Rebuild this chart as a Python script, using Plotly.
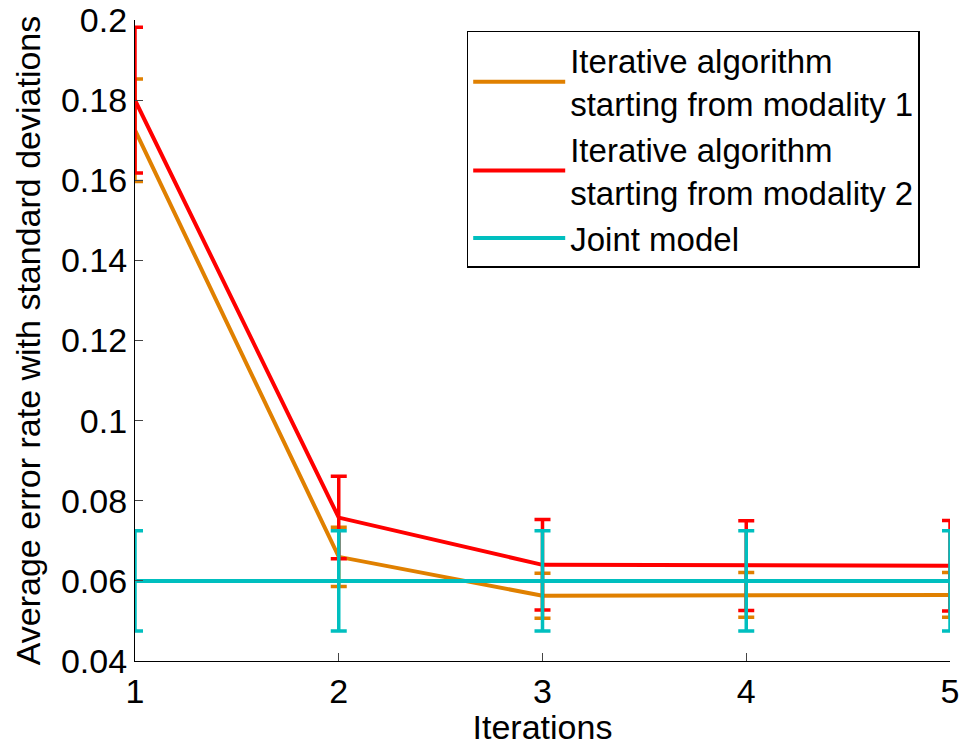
import plotly.graph_objects as go

iterations = [1, 2, 3, 4, 5]

mod1_mean = [0.1725, 0.0660, 0.0563, 0.0565, 0.0565]
mod1_std = [0.0128, 0.0074, 0.0056, 0.0056, 0.0056]

mod2_mean = [0.1800, 0.0758, 0.0640, 0.0638, 0.0638]
mod2_std = [0.0182, 0.0103, 0.0113, 0.0112, 0.0113]

joint_mean = [0.0600, 0.0600, 0.0600, 0.0600, 0.0600]
joint_std = [0.0125, 0.0125, 0.0125, 0.0125, 0.0125]

names = [
    "Iterative algorithm<br>starting from modality 1",
    "Iterative algorithm<br>starting from modality 2",
    "Joint model",
]
colors = ["rgb(224,128,0)", "rgb(255,0,0)", "rgb(0,191,191)"]

fig = go.Figure()
for name, mean, std, col in zip(names, [mod1_mean, mod2_mean, joint_mean],
                                [mod1_std, mod2_std, joint_std], colors):
    fig.add_trace(go.Scatter(
        x=iterations, y=mean, name=name, mode="lines",
        line=dict(color=col, width=4),
        error_y=dict(type="data", array=std, visible=True, color=col,
                     thickness=3.5, width=8),
    ))

font = "Liberation Sans, Arial, sans-serif"
fig.update_layout(
    width=964, height=746,
    margin=dict(l=135, r=14, t=20, b=85, autoexpand=False),
    paper_bgcolor="white", plot_bgcolor="white",
    font=dict(family=font, size=34, color="black"),
    showlegend=True,
    legend=dict(
        x=0.407, y=0.983, xanchor="left", yanchor="top",
        bordercolor="black", borderwidth=1.5, bgcolor="white",
        font=dict(size=33, family=font), itemwidth=92,
        tracegroupgap=0, traceorder="normal",
    ),
    xaxis=dict(
        range=[1, 5], tickvals=iterations, ticks="inside", ticklen=8,
        showline=True, linecolor="black", linewidth=1.2, mirror=False,
        showgrid=False, zeroline=False, automargin=False,
        title=dict(text="Iterations", font=dict(size=34), standoff=0),
        tickfont=dict(size=34),
    ),
    yaxis=dict(
        range=[0.04, 0.2], tickvals=[0.04, 0.06, 0.08, 0.1, 0.12, 0.14, 0.16, 0.18, 0.2],
        ticktext=["0.04", "0.06", "0.08", "0.1", "0.12", "0.14", "0.16", "0.18", "0.2"],
        ticks="inside", ticklen=8,
        showline=True, linecolor="black", linewidth=1.2, mirror=False,
        showgrid=False, zeroline=False, automargin=False,
        title=dict(text="Average error rate with standard deviations", font=dict(size=34), standoff=10),
        tickfont=dict(size=34),
    ),
)

fig.write_html("out.html")
